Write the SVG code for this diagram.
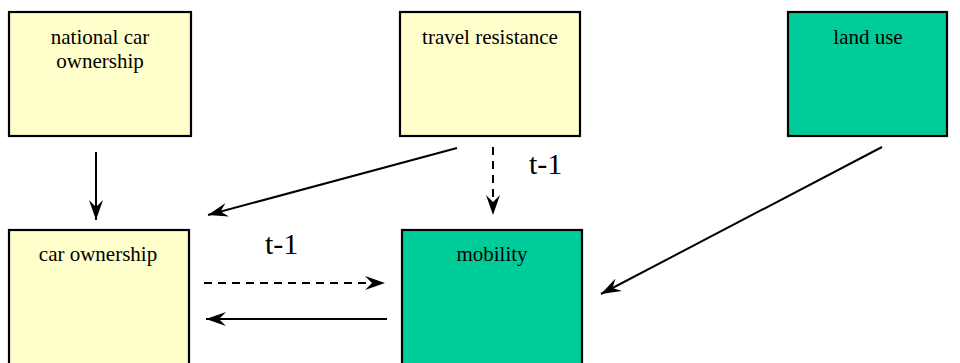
<svg xmlns="http://www.w3.org/2000/svg" width="960" height="363" viewBox="0 0 960 363">
<style>
.box{stroke:#000;stroke-width:2.2}
.y{fill:#FFFFCC}
.g{fill:#00CC99}
.lbl{font-family:"Liberation Serif","Times New Roman",serif;font-size:21px;fill:#000;text-anchor:middle}
.t{font-family:"Liberation Serif","Times New Roman",serif;font-size:30px;fill:#000}
.c{stroke:#000;stroke-width:2;fill:none;marker-end:url(#ah)}
.d{stroke-dasharray:8,6}
</style>
<defs>
<marker id="ah" markerUnits="userSpaceOnUse" markerWidth="24" markerHeight="16" viewBox="-20 -8 24 16" refX="0" refY="0" orient="auto">
<path d="M0,0 L-20,-7 L-13,0 L-20,7 Z" fill="#000"/>
</marker>
</defs>
<rect width="960" height="363" fill="#fff"/>
<g id="national-car-ownership"><rect class="box y" x="9" y="12" width="182" height="124"/><text class="lbl" x="100" y="44">national car</text><text class="lbl" x="100" y="68">ownership</text></g>
<g id="travel-resistance"><rect class="box y" x="400" y="12" width="180" height="124"/><text class="lbl" x="490" y="44">travel resistance</text></g>
<g id="land-use"><rect class="box g" x="788" y="12" width="159" height="124"/><text class="lbl" x="868" y="44">land use</text></g>
<g id="car-ownership"><rect class="box y" x="9" y="230" width="180" height="140"/><text class="lbl" x="98" y="261">car ownership</text></g>
<g id="mobility"><rect class="box g" x="402" y="230" width="180" height="140"/><text class="lbl" x="492" y="261">mobility</text></g>
<g id="connectors">
<line class="c" x1="96" y1="152" x2="96" y2="220"/>
<line class="c" x1="457" y1="148" x2="208" y2="215"/>
<line class="c d" x1="493" y1="147" x2="493" y2="215"/>
<line class="c d" x1="204" y1="283" x2="385" y2="283"/>
<line class="c" x1="387" y1="319" x2="206" y2="319"/>
<line class="c" x1="882" y1="147" x2="601" y2="294"/>
<text class="t" x="529" y="174">t-1</text>
<text class="t" x="265" y="254">t-1</text>
</g>
</svg>
